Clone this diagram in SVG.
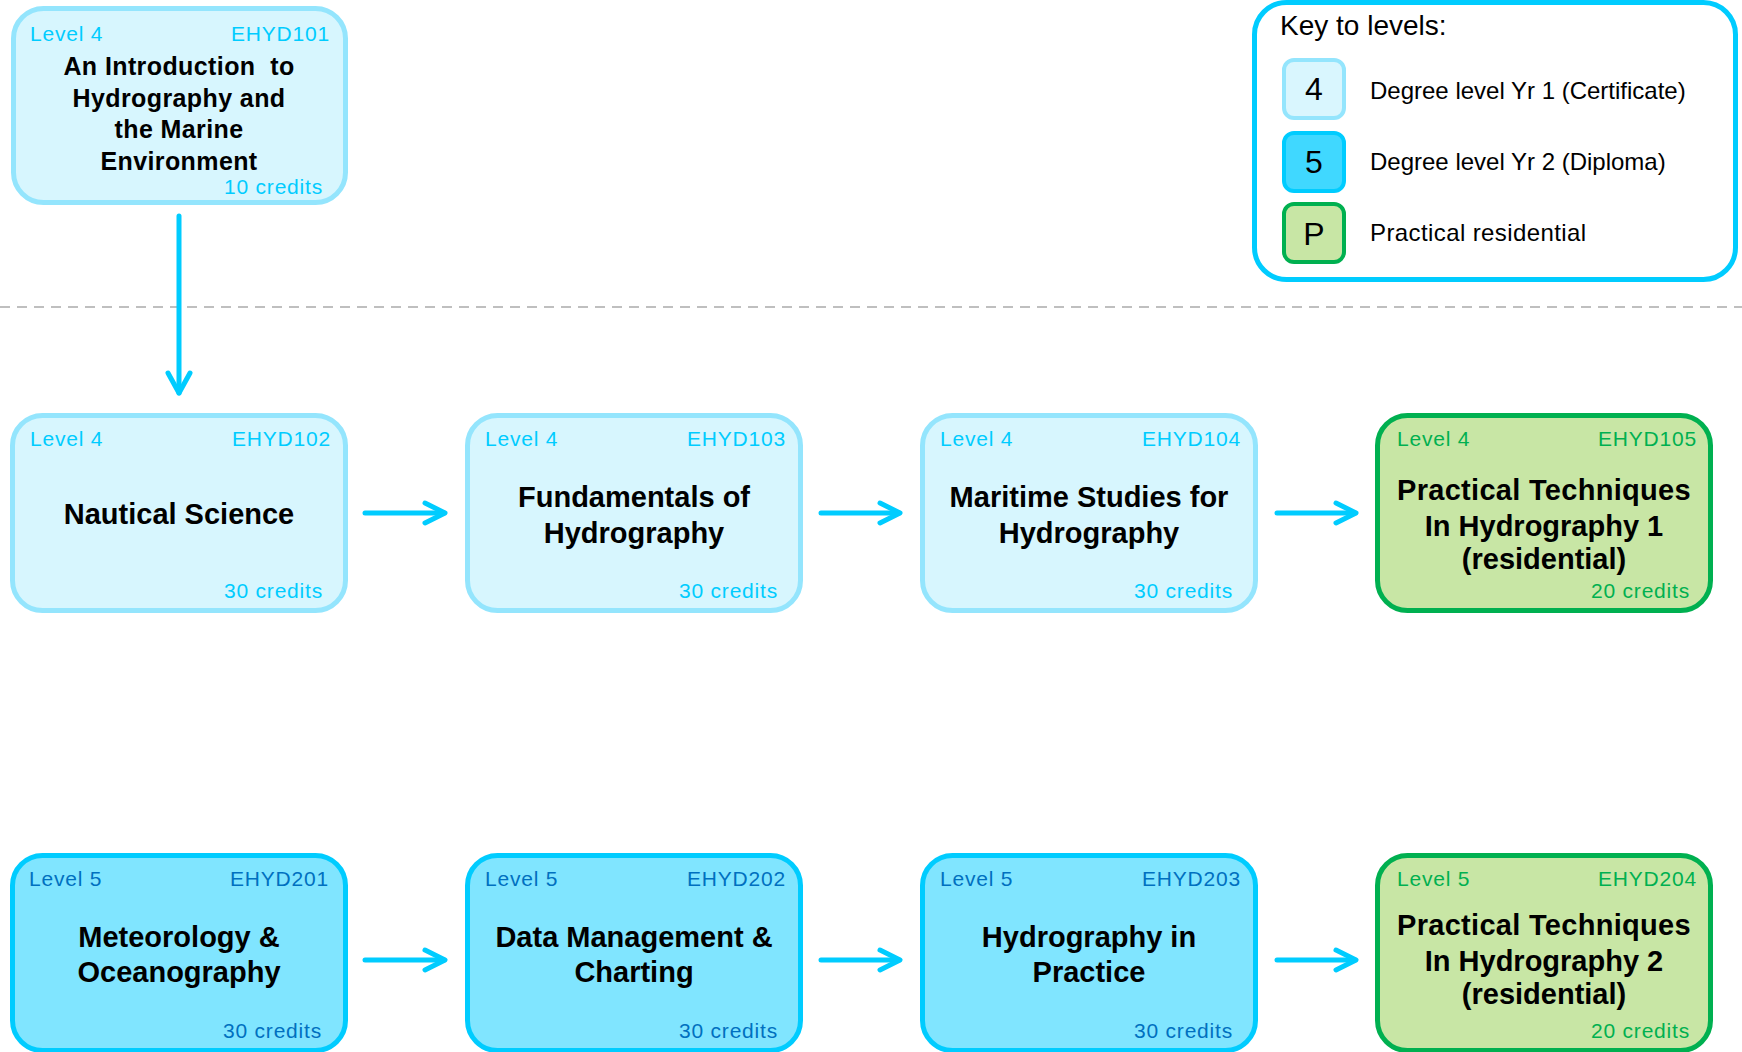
<svg xmlns="http://www.w3.org/2000/svg" width="1742" height="1052" viewBox="0 0 1742 1052">
<style>
.l4 rect{fill:#d7f6fe;stroke:#94e5fd;stroke-width:5}
.l5 rect{fill:#80e5ff;stroke:#00ccff;stroke-width:5}
.lp rect{fill:#c8e6a5;stroke:#00b050;stroke-width:5}
text{font-family:"Liberation Sans",Arial,sans-serif}
.sm{font-size:21px;letter-spacing:0.8px}
.l4 .sm{fill:#00ccff}
.l5 .sm{fill:#0070c0}
.lp .sm{fill:#00b050}
.r{text-anchor:end}
.t{font-size:29px;font-weight:bold;fill:#000;text-anchor:middle}
.t1{font-size:25px;font-weight:bold;fill:#000;text-anchor:middle;letter-spacing:0.4px}
.conn line,.conn polyline{stroke:#00ccff;stroke-width:5;stroke-linecap:round;stroke-linejoin:round;fill:none}
.key{font-size:24px;fill:#000}
.dig{font-size:32px;fill:#000;text-anchor:middle}
</style>
<line x1="0" y1="307" x2="1742" y2="307" stroke="#bfbfbf" stroke-width="2" stroke-dasharray="10 7"/>

<g id="key">
<rect x="1254.5" y="2.5" width="481" height="277" rx="32" fill="#fff" stroke="#00ccff" stroke-width="5"/>
<text x="1280" y="35" style="font-size:28px;fill:#000">Key to levels:</text>
<rect x="1284" y="60" width="60" height="58" rx="10" fill="#d9f6fe" stroke="#94e5fd" stroke-width="4"/>
<text class="dig" x="1314" y="100">4</text>
<rect x="1284" y="133" width="60" height="58" rx="10" fill="#40d8ff" stroke="#00ccff" stroke-width="4"/>
<text class="dig" x="1314" y="173">5</text>
<rect x="1284" y="204" width="60" height="58" rx="10" fill="#c8e6a5" stroke="#00b050" stroke-width="4"/>
<text class="dig" x="1314" y="245">P</text>
<text class="key" x="1370" y="99">Degree level Yr 1 (Certificate)</text>
<text class="key" x="1370" y="170">Degree level Yr 2 (Diploma)</text>
<text class="key" x="1370" y="241" style="letter-spacing:0.4px">Practical residential</text>
</g>

<g id="EHYD101" class="l4">
<rect x="13.5" y="8.5" width="332" height="194" rx="30"/>
<text class="sm" x="30" y="41">Level 4</text>
<text class="sm r" x="330" y="41">EHYD101</text>
<text class="t1" x="179" y="75" xml:space="preserve">An Introduction  to</text>
<text class="t1" x="179" y="107">Hydrography and</text>
<text class="t1" x="179" y="138">the Marine</text>
<text class="t1" x="179" y="170">Environment</text>
<text class="sm r" x="323" y="194">10 credits</text>
</g>

<g id="EHYD102" class="l4">
<rect x="12.5" y="415.5" width="333" height="195" rx="30"/>
<text class="sm" x="30" y="446">Level 4</text>
<text class="sm r" x="331" y="446">EHYD102</text>
<text class="t" x="179" y="524">Nautical Science</text>
<text class="sm r" x="323" y="598">30 credits</text>
</g>

<g id="EHYD103" class="l4">
<rect x="467.5" y="415.5" width="333" height="195" rx="30"/>
<text class="sm" x="485" y="446">Level 4</text>
<text class="sm r" x="786" y="446">EHYD103</text>
<text class="t" x="634" y="507">Fundamentals of</text>
<text class="t" x="634" y="543">Hydrography</text>
<text class="sm r" x="778" y="598">30 credits</text>
</g>

<g id="EHYD104" class="l4">
<rect x="922.5" y="415.5" width="333" height="195" rx="30"/>
<text class="sm" x="940" y="446">Level 4</text>
<text class="sm r" x="1241" y="446">EHYD104</text>
<text class="t" x="1089" y="507">Maritime Studies for</text>
<text class="t" x="1089" y="543">Hydrography</text>
<text class="sm r" x="1233" y="598">30 credits</text>
</g>

<g id="EHYD105" class="lp">
<rect x="1377.5" y="415.5" width="333" height="195" rx="30"/>
<text class="sm" x="1397" y="446">Level 4</text>
<text class="sm r" x="1697" y="446">EHYD105</text>
<text class="t" x="1544" y="500" style="letter-spacing:0.3px">Practical Techniques</text>
<text class="t" x="1544" y="536">In Hydrography 1</text>
<text class="t" x="1544" y="569">(residential)</text>
<text class="sm r" x="1690" y="598">20 credits</text>
</g>

<g id="EHYD201" class="l5">
<rect x="12.5" y="855.5" width="333" height="195" rx="30"/>
<text class="sm" x="29" y="886">Level 5</text>
<text class="sm r" x="329" y="886">EHYD201</text>
<text class="t" x="179" y="947">Meteorology &amp;</text>
<text class="t" x="179" y="982">Oceanography</text>
<text class="sm r" x="322" y="1038">30 credits</text>
</g>

<g id="EHYD202" class="l5">
<rect x="467.5" y="855.5" width="333" height="195" rx="30"/>
<text class="sm" x="485" y="886">Level 5</text>
<text class="sm r" x="786" y="886">EHYD202</text>
<text class="t" x="634" y="947">Data Management &amp;</text>
<text class="t" x="634" y="982">Charting</text>
<text class="sm r" x="778" y="1038">30 credits</text>
</g>

<g id="EHYD203" class="l5">
<rect x="922.5" y="855.5" width="333" height="195" rx="30"/>
<text class="sm" x="940" y="886">Level 5</text>
<text class="sm r" x="1241" y="886">EHYD203</text>
<text class="t" x="1089" y="947">Hydrography in</text>
<text class="t" x="1089" y="982">Practice</text>
<text class="sm r" x="1233" y="1038">30 credits</text>
</g>

<g id="EHYD204" class="lp">
<rect x="1377.5" y="855.5" width="333" height="195" rx="30"/>
<text class="sm" x="1397" y="886">Level 5</text>
<text class="sm r" x="1697" y="886">EHYD204</text>
<text class="t" x="1544" y="935" style="letter-spacing:0.3px">Practical Techniques</text>
<text class="t" x="1544" y="971">In Hydrography 2</text>
<text class="t" x="1544" y="1004">(residential)</text>
<text class="sm r" x="1690" y="1038">20 credits</text>
</g>

<g id="connectors" class="conn">
<line x1="179" y1="216" x2="179" y2="393"/>
<polyline points="168,373 179,393 190,373"/>
<line x1="365" y1="513" x2="444" y2="513"/>
<polyline points="425,503 445,513 425,523"/>
<line x1="821" y1="513" x2="899" y2="513"/>
<polyline points="880,503 900,513 880,523"/>
<line x1="1277" y1="513" x2="1355" y2="513"/>
<polyline points="1336,503 1356,513 1336,523"/>
<line x1="365" y1="960" x2="444" y2="960"/>
<polyline points="425,950 445,960 425,970"/>
<line x1="821" y1="960" x2="899" y2="960"/>
<polyline points="880,950 900,960 880,970"/>
<line x1="1277" y1="960" x2="1355" y2="960"/>
<polyline points="1336,950 1356,960 1336,970"/>
</g>
</svg>
